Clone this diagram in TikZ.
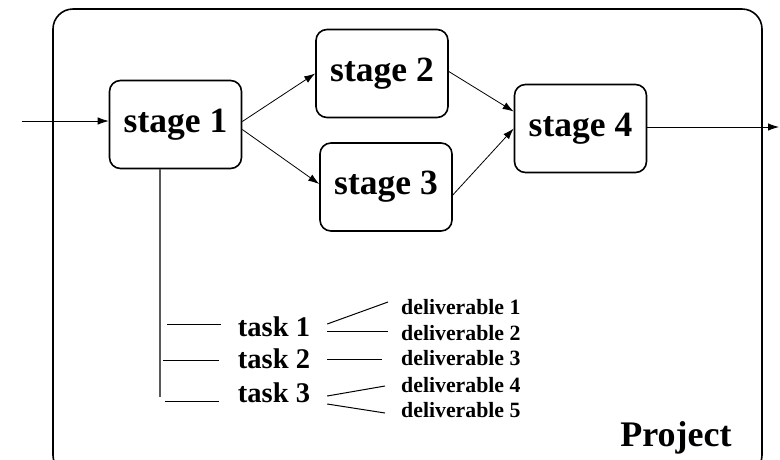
\documentclass[tikz,border=0pt]{standalone}
\usepackage{fontspec}
\setmainfont{Liberation Serif}
\usetikzlibrary{positioning,calc,arrows.meta}

\tikzset{
    stage/.style={draw,line width=1.6pt,rounded corners=11pt,minimum width=132pt,minimum height=88pt,font=\fontsize{35.5}{40}\selectfont\bfseries},
    task/.style={inner sep=0pt,font=\fontsize{28.5}{32}\selectfont\bfseries},
    deliv/.style={inner sep=0pt,anchor=west,font=\fontsize{21.8}{25}\selectfont\bfseries},
    flow/.style={-{Latex[length=11pt,width=7.5pt]},line width=0.8pt},
    bar/.style={line width=1pt}
}

\begin{document}
\begin{tikzpicture}[x=1pt,y=-1pt]
    \useasboundingbox (0,0) rectangle (780,459);
    \draw[line width=1.6pt,rounded corners=20pt] (53,9) rectangle (762,475);

    \draw
        node[stage] (s1) at (175.5,124.5) {stage 1}
        node[stage] (s2) at (382,73.5) {stage 2}
        node[stage] (s3) at (386,187) {stage 3}
        node[stage] (s4) at (580.5,128.5) {stage 4}

        node[task] (t1) at (274,327) {task 1}
        node[task] (t2) at (274,359) {task 2}
        node[task] (t3) at (274,393) {task 3}

        node[deliv] (d1) at (401,307) {deliverable 1}
        node[deliv] (d2) at (401,333) {deliverable 2}
        node[deliv] (d3) at (401,358) {deliverable 3}
        node[deliv] (d4) at (401,385) {deliverable 4}
        node[deliv] (d5) at (401,410) {deliverable 5}

        node[font=\fontsize{36}{40}\selectfont\bfseries] (proj) at (676,438) {Project}
    ;

    \coordinate (in) at (22,121);
    \coordinate (out) at (779,127);
    \coordinate (barend) at (160,397);

    \draw[flow] (in) -- (in -| s1.west);
    \draw[flow] (s4.east |- out) -- (out);
    \draw[flow] ([yshift=3pt]s1.east) -- (s2.west);
    \draw[flow] ([yshift=-5pt]s1.east) -- ([yshift=3pt]s3.west);
    \draw[flow] ([yshift=2pt]s2.east) -- ([yshift=17pt]s4.west);
    \draw[flow] ([yshift=-8pt]s3.east) -- (s4.west);

    \draw[line width=2pt,black!65] (s1.south -| barend) -- (barend);
    \draw[bar] ($(t1.west)+(-17,-3)$) -- ++(-54,0);
    \draw[bar] ($(t2.west)+(-19,1)$) -- ++(-56,0);
    \draw[bar] ($(t3.west)+(-19,8)$) -- ++(-54,0);

    \draw[bar] ($(t1.east)+(17,-3)$) -- ($(d1.west)+(-13,-5)$);
    \draw[bar] ($(t1.east)+(17,4)$) -- ($(d2.west)+(-13,-2)$);
    \draw[bar] ($(t2.east)+(17,0)$) -- ($(d3.west)+(-19,1)$);
    \draw[bar] ($(t3.east)+(17,3)$) -- ($(d4.west)+(-16,1)$);
    \draw[bar] ($(t3.east)+(17,11)$) -- ($(d5.west)+(-16,3)$);
\end{tikzpicture}
\end{document}
